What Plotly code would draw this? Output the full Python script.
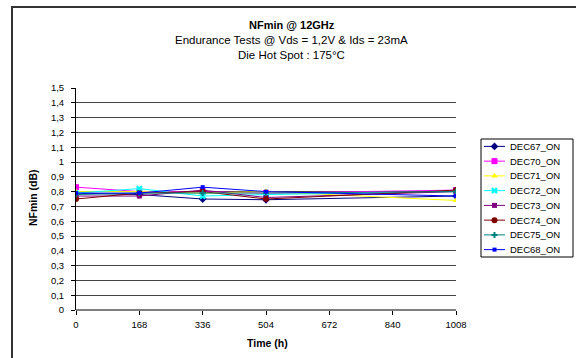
import plotly.graph_objects as go

time_h = [0, 168, 336, 504, 1008]
x_ticks = [0, 168, 336, 504, 672, 840, 1008]

series_names = ["DEC67_ON", "DEC70_ON", "DEC71_ON", "DEC72_ON",
                "DEC73_ON", "DEC74_ON", "DEC75_ON", "DEC68_ON"]
dec67 = [0.79, 0.78, 0.75, 0.745, 0.77]
dec70 = [0.83, 0.80, 0.80, 0.79, 0.81]
dec71 = [0.80, 0.80, 0.79, 0.80, 0.74]
dec72 = [0.79, 0.82, 0.77, 0.78, 0.80]
dec73 = [0.77, 0.77, 0.81, 0.76, 0.80]
dec74 = [0.75, 0.79, 0.80, 0.75, 0.81]
dec75 = [0.78, 0.79, 0.79, 0.79, 0.80]
dec68 = [0.79, 0.79, 0.83, 0.80, 0.77]
values = [dec67, dec70, dec71, dec72, dec73, dec74, dec75, dec68]

colors = ["#000080", "#FF00FF", "#FFFF00", "#00FFFF",
          "#800080", "#800000", "#008080", "#0000FF"]
symbols = ["diamond", "square", "triangle-up", "x",
           "square", "circle", "cross", "square"]
sizes = [6, 6, 6, 6, 5, 6, 5, 4]

W, H = 576, 358
def px(x):
    return x / W
def py(y):
    return (H - y) / H

# plot area in pixels
PL, PR, PT, PB = 76, 456, 88, 310
# legend area in pixels
LL, LR, LT, LB = 481, 573, 139, 257

font_family = "Liberation Sans, Arial, sans-serif"

fig = go.Figure()
for name, vals, c, s, sz in zip(series_names, values, colors, symbols, sizes):
    fig.add_trace(go.Scatter(
        x=time_h, y=vals, name=name, mode="lines+markers",
        line=dict(color=c, width=1),
        marker=dict(color=c, symbol=s, size=sz, line=dict(width=0)),
        showlegend=False,
    ))

# custom compact legend on an overlay axis
n = len(series_names)
for i, (name, c, s, sz) in enumerate(zip(series_names, colors, symbols, sizes)):
    fig.add_trace(go.Scatter(
        x=[0, 0.5, 1], y=[i, i, i], mode="lines",
        line=dict(color=c, width=1), xaxis="x2", yaxis="y2",
        showlegend=False, hoverinfo="skip",
    ))
    fig.add_trace(go.Scatter(
        x=[0.5], y=[i], mode="markers",
        marker=dict(color=c, symbol=s, size=sz, line=dict(width=0)),
        xaxis="x2", yaxis="y2", showlegend=False, hoverinfo="skip",
    ))

annotations = [
    dict(text="<b>NFmin @ 12GHz</b>", xref="paper", yref="paper",
         x=px(292), y=py(25), xanchor="center", yanchor="middle",
         showarrow=False, font=dict(size=11)),
    dict(text="Endurance Tests @ Vds = 1,2V & Ids = 23mA", xref="paper", yref="paper",
         x=px(291), y=py(40), xanchor="center", yanchor="middle",
         showarrow=False, font=dict(size=11.5)),
    dict(text="Die Hot Spot : 175°C", xref="paper", yref="paper",
         x=px(291), y=py(55), xanchor="center", yanchor="middle",
         showarrow=False, font=dict(size=11.5)),
    dict(text="<b>Time (h)</b>", xref="paper", yref="paper",
         x=px(267), y=py(343), xanchor="center", yanchor="middle",
         showarrow=False, font=dict(size=10.5)),
    dict(text="<b>NFmin (dB)</b>", xref="paper", yref="paper",
         x=px(33), y=py(198), xanchor="center", yanchor="middle",
         showarrow=False, textangle=-90, font=dict(size=10.5)),
]
row_h = (LB - LT) / n
for i, name in enumerate(series_names):
    annotations.append(dict(
        text=name, xref="paper", yref="paper",
        x=px(508), y=py(LT + row_h * (i + 0.5)), xanchor="left", yanchor="middle",
        showarrow=False, font=dict(size=9.5)))

fig.update_layout(
    width=W, height=H,
    margin=dict(l=0, r=0, t=0, b=0),
    paper_bgcolor="white", plot_bgcolor="rgba(0,0,0,0)",
    separators=", ",
    font=dict(family=font_family, size=9, color="black"),
    showlegend=False,
    xaxis=dict(domain=[px(PL), px(PR)], range=[0, 1008], tickvals=x_ticks,
               ticktext=[str(v) for v in x_ticks],
               showgrid=False, zeroline=False, showline=False, automargin=False,
               ticks="outside", ticklen=4, tickcolor="black",
               tickfont=dict(size=9.5), ticklabelstandoff=2),
    yaxis=dict(domain=[py(PB), py(PT)], range=[0, 1.5], dtick=0.1, tick0=0,
               showgrid=True, gridcolor="#444444", gridwidth=1,
               zeroline=False, showline=True, linecolor="black", linewidth=1,
               automargin=False,
               ticks="outside", ticklen=4, tickcolor="black",
               tickfont=dict(size=9.5), ticklabelstandoff=5),
    xaxis2=dict(domain=[px(484), px(505)], range=[0, 1], visible=False,
                anchor="y2", fixedrange=True),
    yaxis2=dict(domain=[py(LB), py(LT)], range=[n - 0.5, -0.5], visible=False,
                anchor="x2", fixedrange=True),
    shapes=[
        dict(type="line", xref="paper", yref="paper", x0=px(PL), x1=px(PR),
             y0=py(PB), y1=py(PB), line=dict(color="black", width=1)),
        dict(type="rect", xref="paper", yref="paper", x0=px(12), x1=px(600),
             y0=py(400), y1=py(7), line=dict(color="#333333", width=2), layer="below"),
        dict(type="rect", xref="paper", yref="paper", x0=px(LL), x1=px(LR),
             y0=py(LB), y1=py(LT), line=dict(color="black", width=1),
             fillcolor="white", layer="below"),
    ],
    annotations=annotations,
)

fig.write_html(
    "out.html",
    config={"displayModeBar": False},
    post_script="document.body.style.margin='0';document.body.style.overflow='hidden';",
)
